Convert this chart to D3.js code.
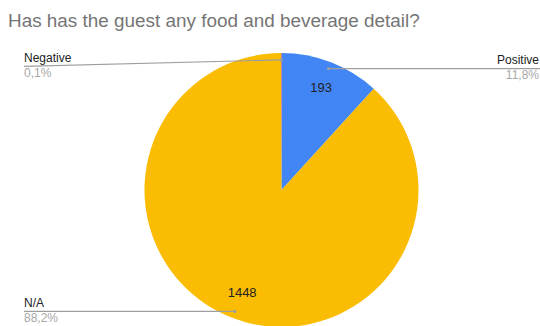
<!DOCTYPE html>
<html>
<head>
<meta charset="utf-8">
<script src="https://cdn.jsdelivr.net/npm/d3@7"></script>
<style>
  html, body { margin: 0; padding: 0; background: #fff; }
  svg { display: block; font-family: Arial, "Liberation Sans", Helvetica, sans-serif; }
</style>
</head>
<body>
<svg id="chart" width="540" height="326"></svg>
<script>
// Answer categories, counts, shares and slice colours
const categories = ["Positive", "N/A", "Negative"];
const counts = [193, 1448, 1];
const shareLabels = ["11,8%", "88,2%", "0,1%"];
const colors = ["#4285F4", "#FBBC04", "#EA4335"];
const title = "Has has the guest any food and beverage detail?";

const W = 540, H = 326;
const cx = 281.5, cy = 190, R = 137;

const svg = d3.select("#chart");

svg.append("text")
  .attr("x", 8).attr("y", 26.5)
  .attr("font-size", 18.9)
  .attr("fill", "#757575")
  .text(title);

const data = categories.map((c, i) => ({ name: c, value: counts[i], share: shareLabels[i], color: colors[i] }));

const pie = d3.pie().value(d => d.value).sort(null).startAngle(0).endAngle(2 * Math.PI);
const arcs = pie(data);

const arc = d3.arc().innerRadius(0).outerRadius(R);
const valueArc = d3.arc().innerRadius(R * 0.8).outerRadius(R * 0.8);
const pointArc = d3.arc().innerRadius(R * 0.95).outerRadius(R * 0.95);

const g = svg.append("g").attr("transform", `translate(${cx},${cy})`);

g.selectAll("path.slice")
  .data(arcs)
  .join("path")
  .attr("class", "slice")
  .attr("d", arc)
  .attr("fill", d => d.data.color);

// Values inside the larger slices
g.selectAll("text.value")
  .data(arcs.filter(d => d.endAngle - d.startAngle > 0.3))
  .join("text")
  .attr("class", "value")
  .attr("transform", d => `translate(${valueArc.centroid(d)})`)
  .attr("text-anchor", "middle")
  .attr("dy", "0.36em")
  .attr("font-size", 13)
  .attr("fill", "#222")
  .text(d => d3.format("d")(d.data.value));

// Leader lines and outside labels
const labelLayer = svg.append("g");
arcs.forEach(d => {
  const p = pointArc.centroid(d);
  const px = cx + p[0], py = cy + p[1];
  const mid = (d.startAngle + d.endAngle) / 2;
  const right = mid < Math.PI && mid > 0.01;
  const ly = Math.max(py, 66.3);
  const ex = right ? W : 24;

  labelLayer.append("path")
    .attr("d", d3.line()([[ex, ly], [px, py]]))
    .attr("fill", "none")
    .attr("stroke", "#9e9e9e")
    .attr("stroke-width", 1.2);
  labelLayer.append("circle")
    .attr("cx", px).attr("cy", py).attr("r", 1.6)
    .attr("fill", "#9e9e9e");

  const tx = right ? W - 1 : 24;
  const anchor = right ? "end" : "start";
  labelLayer.append("text")
    .attr("x", tx).attr("y", ly - 4.6)
    .attr("text-anchor", anchor)
    .attr("font-size", 12)
    .attr("fill", "#222")
    .text(d.data.name);
  labelLayer.append("text")
    .attr("x", tx).attr("y", ly + 10.8)
    .attr("text-anchor", anchor)
    .attr("font-size", 12)
    .attr("fill", "#a8a8a8")
    .text(d.data.share);
});
</script>
</body>
</html>
